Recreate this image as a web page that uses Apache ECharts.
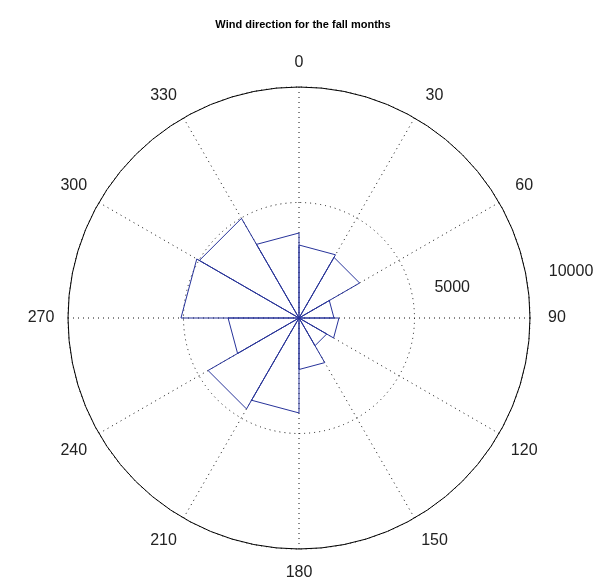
<!DOCTYPE html>
<html lang="en" style="height: 100%">
<head>
    <meta charset="utf-8">
    <title>Wind direction for the fall months</title>
</head>
<body style="height: 100%; margin: 0; background: #fff">
    <div id="container" style="width: 606px; height: 582px"></div>
    <script src="https://cdn.jsdelivr.net/npm/echarts@6/dist/echarts.min.js"></script>
    <script>
        // rose bins: start angle of each 30 degree sector (compass, clockwise from north)
        var dirStart = [0, 30, 60, 90, 120, 150, 180, 210, 240, 270, 300, 330];
        var binWidth = 30;
        // counts per sector
        var counts = [3160, 3030, 1515, 1730, 1385, 2230, 4110, 4545, 3070, 5110, 4980, 3680];
        // labels on the rings
        var radiusLabels = [5000, 10000];

        // rose petals the way matlab draws them: centre -> r@a0 -> r@a1 -> centre
        var rosePts = [];
        dirStart.forEach(function (a, i) {
            rosePts.push([0, a], [counts[i], a], [counts[i], a + binWidth], [0, a + binWidth]);
        });

        var dom = document.getElementById('container');
        var myChart = echarts.init(dom, null, { renderer: 'canvas' });

        var font = 'Liberation Sans, Arial, sans-serif';
        var dotted = { type: [1, 4], color: '#111', width: 1 };

        var option = {
            backgroundColor: '#fff',
            animation: false,
            title: {
                text: 'Wind direction for the fall months',
                left: 'center',
                top: 14,
                textStyle: { fontSize: 11, fontWeight: 'bold', color: '#000', fontFamily: font }
            },
            polar: [
                { center: [299, 318], radius: 231 },
                { center: [299, 318], radius: 231 }   // only used to place the ring labels
            ],
            angleAxis: [
                {
                    polarIndex: 0,
                    type: 'value',
                    min: 0,
                    max: 360,
                    interval: 30,
                    startAngle: 90,
                    clockwise: true,
                    axisLine: { lineStyle: { color: '#000', width: 1 } },
                    axisTick: { show: false },
                    axisLabel: {
                        margin: 14,
                        formatter: function (v) { return v === 360 ? '' : '{a|' + v + '}'; },
                        rich: {
                            // fixed box so the labels sit roughly centred on a circle
                            a: {
                                width: 26, height: 20, lineHeight: 20,
                                align: 'center', verticalAlign: 'middle',
                                fontSize: 16, color: '#222', fontFamily: font
                            }
                        }
                    },
                    splitLine: { show: true, lineStyle: dotted }
                },
                {
                    polarIndex: 1,
                    type: 'value',
                    min: 0,
                    max: 360,
                    startAngle: 8,
                    show: false
                }
            ],
            radiusAxis: [
                {
                    polarIndex: 0,
                    min: 0,
                    max: 10000,
                    interval: 5000,
                    axisLine: { show: false },
                    axisTick: { show: false },
                    axisLabel: { show: false },
                    splitLine: { show: true, lineStyle: dotted }
                },
                {
                    polarIndex: 1,
                    min: 0,
                    max: 10000,
                    interval: 5000,
                    axisLine: { show: false },
                    axisTick: { show: false },
                    splitLine: { show: false },
                    axisLabel: {
                        fontSize: 16,
                        color: '#222',
                        fontFamily: font,
                        margin: 14,
                        align: 'left',
                        padding: [0, 0, 0, 23],
                        formatter: function (v) { return radiusLabels.indexOf(v) >= 0 ? String(v) : ''; }
                    }
                }
            ],
            series: [{
                type: 'line',
                coordinateSystem: 'polar',
                polarIndex: 0,
                showSymbol: false,
                symbol: 'none',
                lineStyle: { color: '#27339a', width: 1 },
                data: rosePts
            }]
        };

        myChart.setOption(option);
        window.addEventListener('resize', myChart.resize);
    </script>
</body>
</html>
